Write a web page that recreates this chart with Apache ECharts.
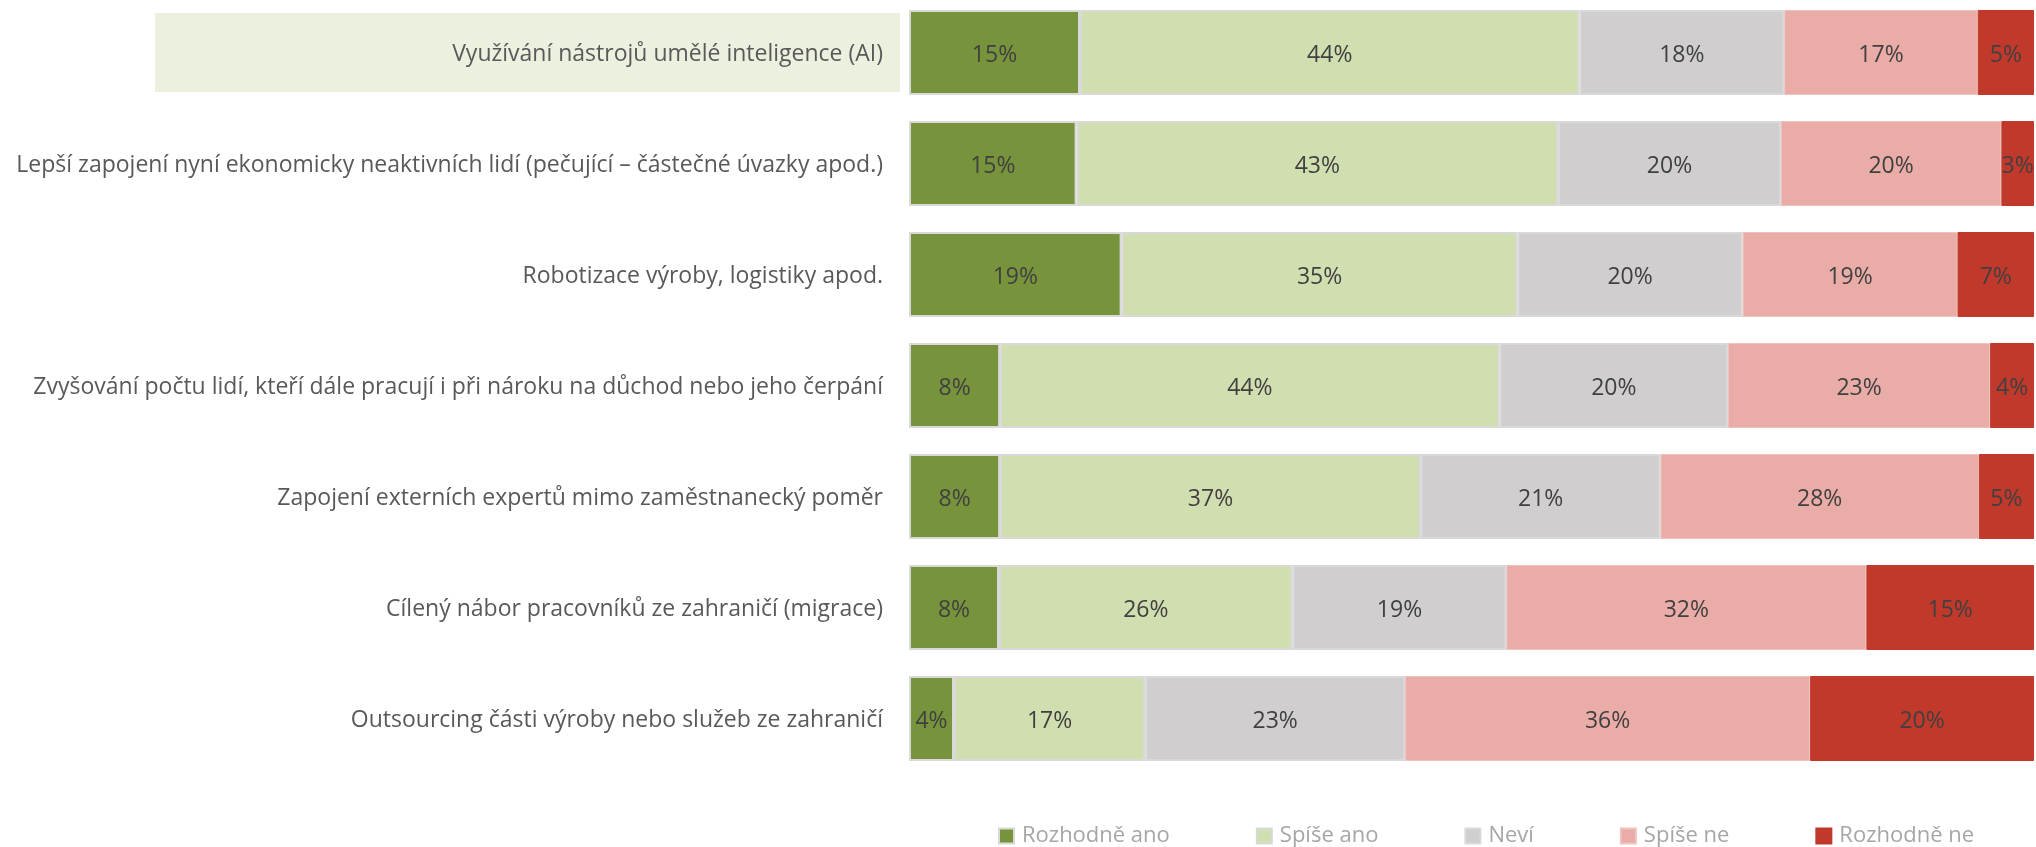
<!DOCTYPE html>
<html>
<head>
<meta charset="utf-8">
<script src="https://cdn.jsdelivr.net/npm/echarts@6/dist/echarts.min.js"></script>
<style>
html,body{margin:0;padding:0;background:#fff;}
#chart{width:2036px;height:847px;}
</style>
</head>
<body>
<div id="chart"></div>
<script>
const categories = [
  'Využívání nástrojů umělé inteligence (AI)',
  'Lepší zapojení nyní ekonomicky neaktivních lidí (pečující – částečné úvazky apod.)',
  'Robotizace výroby, logistiky apod.',
  'Zvyšování počtu lidí, kteří dále pracují i při nároku na důchod nebo jeho čerpání',
  'Zapojení externích expertů mimo zaměstnanecký poměr',
  'Cílený nábor pracovníků ze zahraničí (migrace)',
  'Outsourcing části výroby nebo služeb ze zahraničí'
];
const seriesNames = ['Rozhodně ano', 'Spíše ano', 'Neví', 'Spíše ne', 'Rozhodně ne'];
const rozhodneAno = [15.2, 14.9, 18.9, 8.1, 8.1, 8.0, 4.0];
const spiseAno    = [44.4, 42.8, 35.2, 44.4, 37.4, 26.1, 17.0];
const nevi        = [18.2, 19.8, 20.0, 20.3, 21.3, 19.0, 23.1];
const spiseNe     = [17.2, 19.6, 19.1, 23.3, 28.3, 32.0, 36.0];
const rozhodneNe  = [5.0, 2.9, 6.8, 3.9, 4.9, 14.9, 19.9];

const colors = ['#77933c', '#d0deb0', '#d0cecf', '#eaaca7', '#c0392b'];
const borders = ['#d9d9d9', '#d9d9d9', '#d9d9d9', '#eec3bf', '#c0392b'];
const seriesData = [rozhodneAno, spiseAno, nevi, spiseNe, rozhodneNe];
const FONT = '"Open Sans", Lato, sans-serif';

const chart = echarts.init(document.getElementById('chart'), null, {renderer: 'canvas'});
chart.setOption({
  animation: false,
  backgroundColor: '#ffffff',
  grid: {left: 909, right: 2, top: 52.5, bottom: 128.5, containLabel: false},
  xAxis: {type: 'value', min: 0, max: 100, show: false, splitLine: {show: false}},
  yAxis: {
    type: 'category', inverse: true, data: categories, boundaryGap: false,
    axisLine: {show: false}, axisTick: {show: false}, splitLine: {show: false},
    axisLabel: {
      margin: 9,
      fontFamily: FONT, fontSize: 23, color: '#595959',
      formatter: function (v, i) { return i === 0 ? '{hl|' + v + '}' : '{n|' + v + '}'; },
      rich: {
        n: {fontFamily: FONT, fontSize: 23, color: '#595959', padding: [4, 17, 0, 0]},
        hl: {fontFamily: FONT, fontSize: 23, color: '#595959', backgroundColor: '#ebf0df',
             width: 728, align: 'right', lineHeight: 28, padding: [30, 17, 26, 0]}
      }
    }
  },
  legend: {
    left: 998, top: 825, padding: 0, itemWidth: 15, itemHeight: 15, itemGap: 86,
    icon: 'rect',
    data: seriesNames,
    textStyle: {fontFamily: FONT, fontSize: 22, color: '#a6a6a6', padding: [0, 0, 0, 3]}
  },
  series: seriesNames.map(function (name, k) {
    return {
      name: name, type: 'bar', stack: 'total', barWidth: 85, clip: false,
      data: seriesData[k],
      itemStyle: {color: colors[k], borderColor: borders[k], borderWidth: k < 3 ? 2 : 1},
      label: {
        show: true, position: 'inside', offset: [0, 3], fontFamily: FONT, fontSize: 23, color: '#404040',
        formatter: function (p) { return Math.round(p.value) + '%'; }
      }
    };
  })
});
</script>
</body>
</html>
